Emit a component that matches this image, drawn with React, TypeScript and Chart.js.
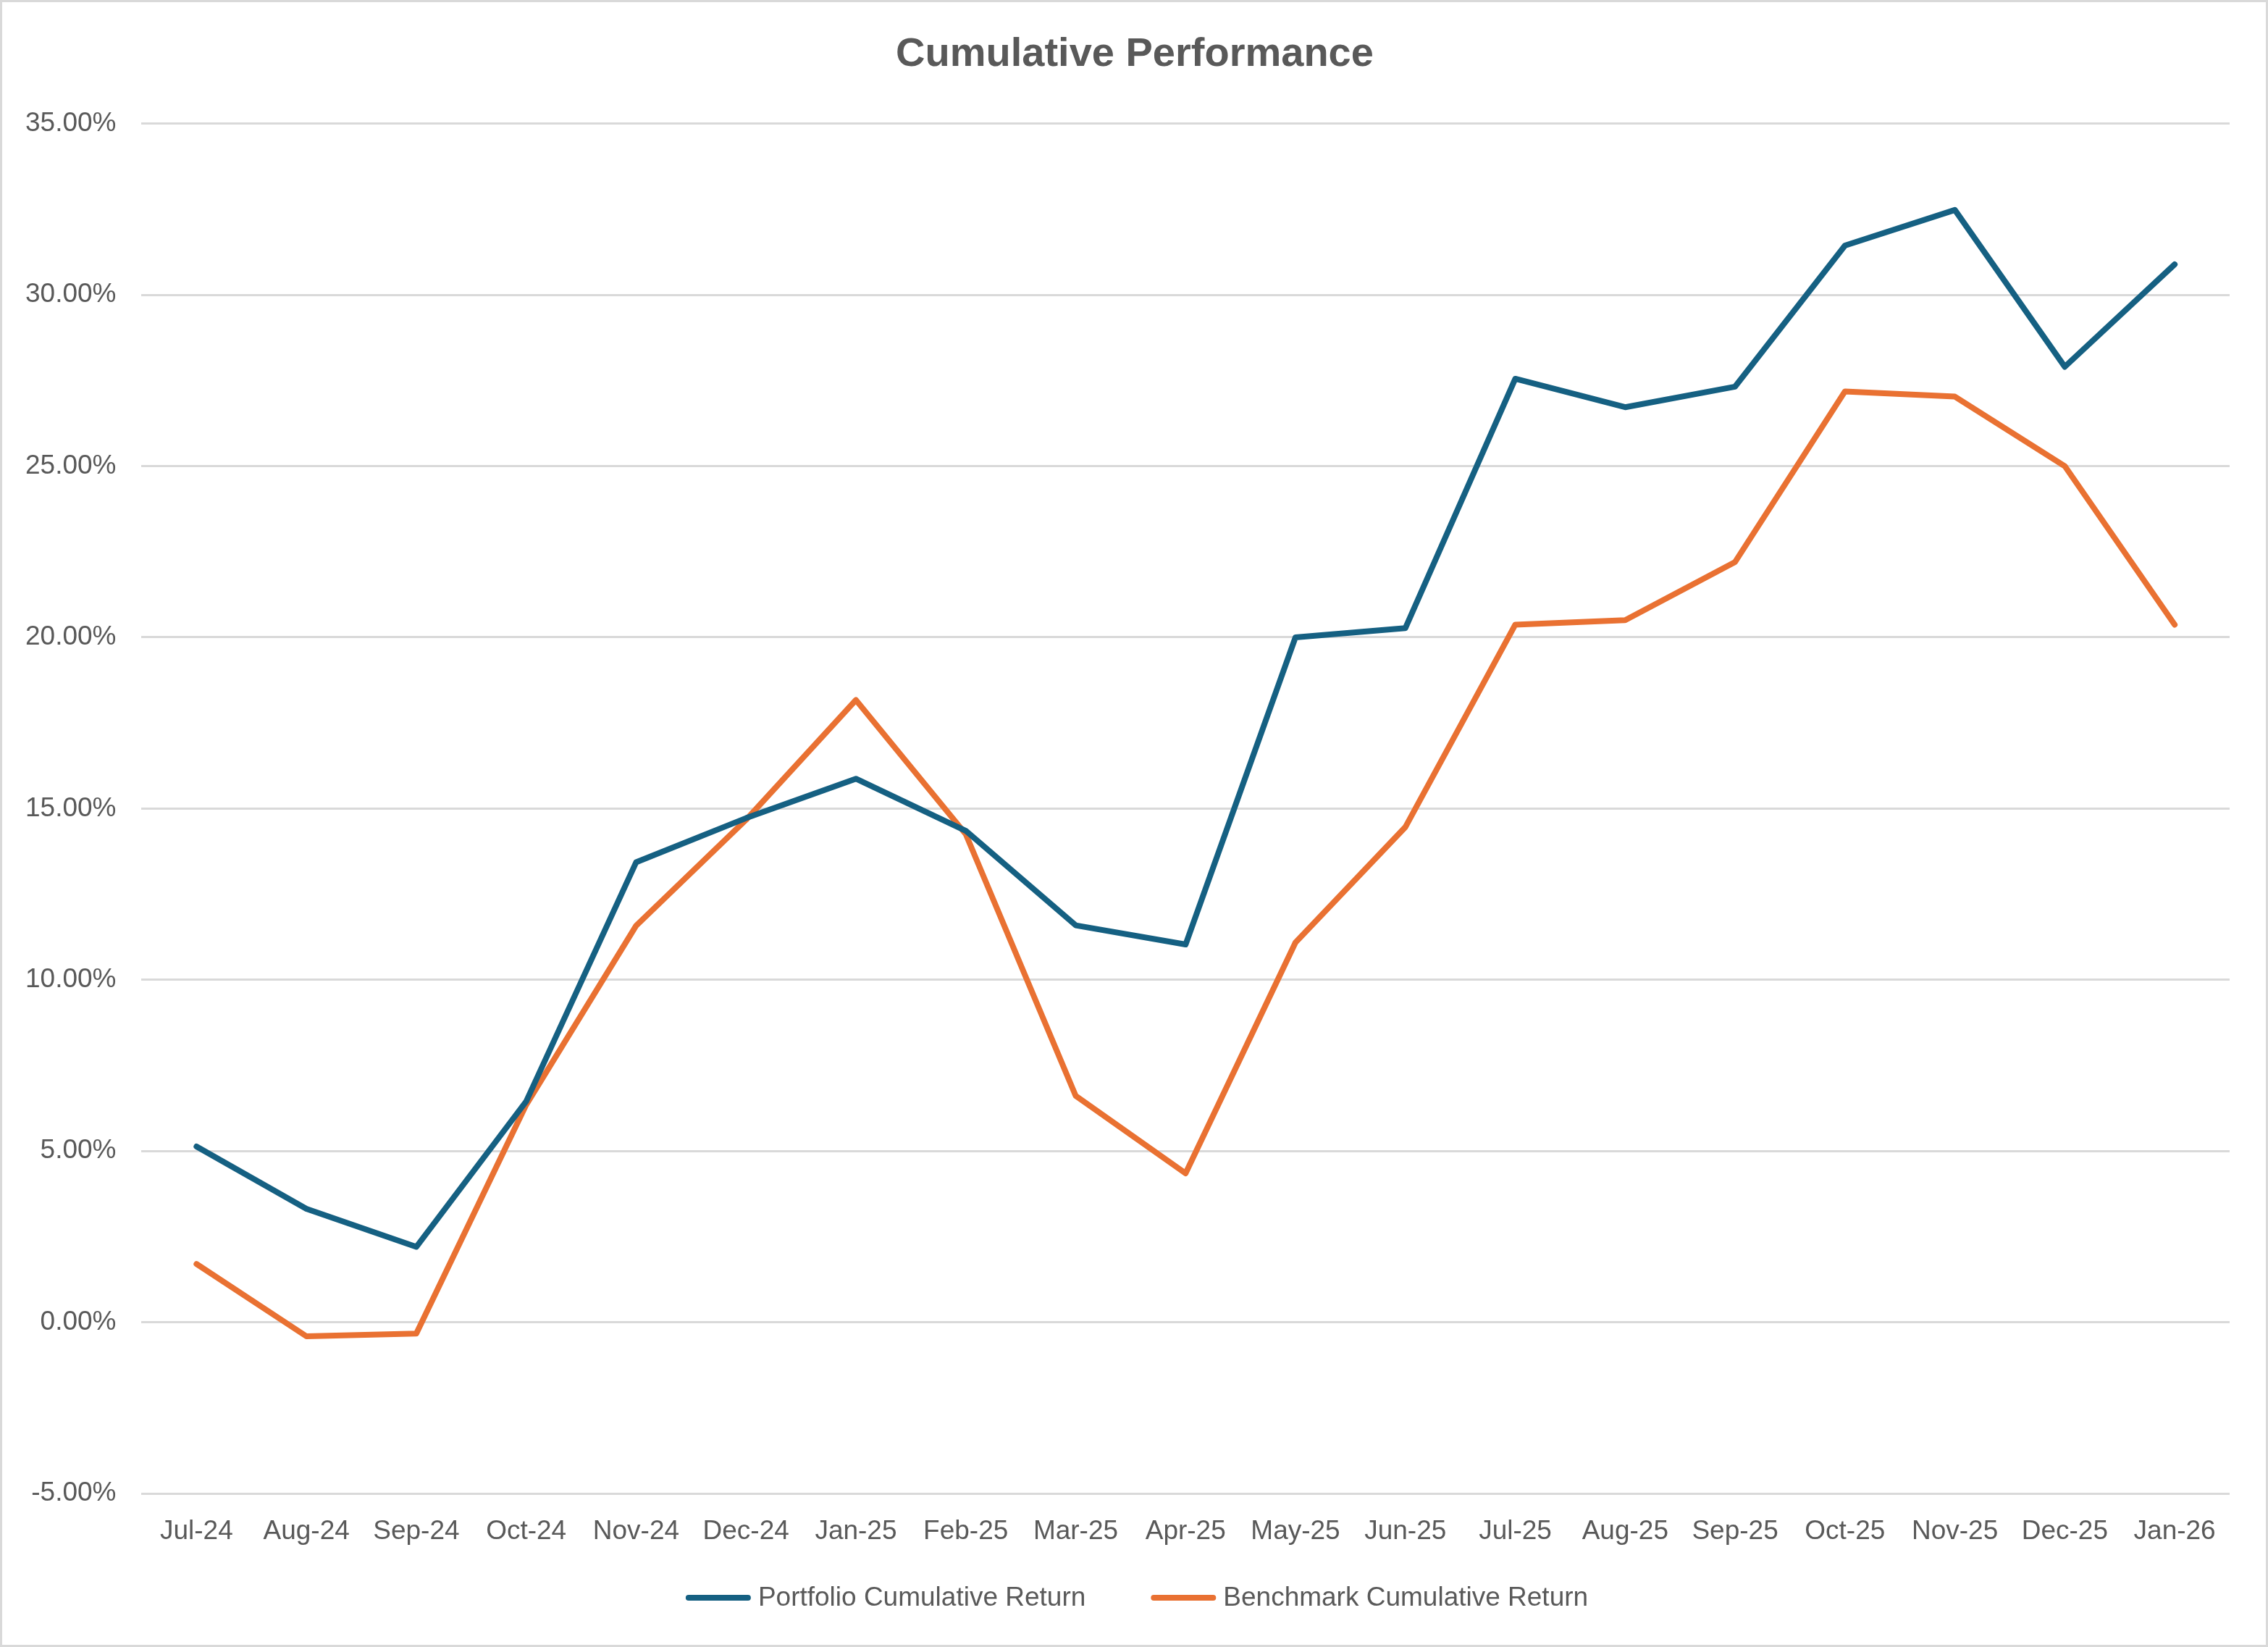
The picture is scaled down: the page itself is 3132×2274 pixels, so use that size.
import React, { useEffect, useRef } from "react";
import { Chart, registerables } from "chart.js";

Chart.register(...registerables);

const categories = [
  "Jul-24", "Aug-24", "Sep-24", "Oct-24", "Nov-24", "Dec-24", "Jan-25", "Feb-25",
  "Mar-25", "Apr-25", "May-25", "Jun-25", "Jul-25", "Aug-25", "Sep-25", "Oct-25",
  "Nov-25", "Dec-25", "Jan-26",
];

const portfolioReturn = [
  5.13, 3.31, 2.2, 6.45, 13.43, 14.72, 15.87, 14.35, 11.59, 11.03, 20.0, 20.27,
  27.55, 26.72, 27.32, 31.44, 32.48, 27.9, 30.89,
];

const benchmarkReturn = [
  1.7, -0.41, -0.33, 6.35, 11.58, 14.67, 18.17, 14.25, 6.61, 4.35, 11.09, 14.46,
  20.37, 20.5, 22.2, 27.18, 27.03, 25.0, 20.37,
];

const seriesNames = ["Portfolio Cumulative Return", "Benchmark Cumulative Return"];
const seriesColors = ["#156082", "#E97132"];
const chartTitle = "Cumulative Performance";

const FONT = "'Liberation Sans', Arial, sans-serif";
const TEXT_COLOR = "#595959";
const GRID_COLOR = "#d9d9d9";

const frameTitleLegend = {
  id: "frameTitleLegend",
  beforeDraw(chart: any) {
    const { ctx, width, height } = chart;
    ctx.save();
    ctx.fillStyle = "#ffffff";
    ctx.fillRect(0, 0, width, height);
    ctx.restore();
  },
  afterDraw(chart: any) {
    const { ctx, width, height } = chart;
    ctx.save();
    ctx.strokeStyle = GRID_COLOR;
    ctx.lineWidth = 3;
    ctx.strokeRect(1.5, 1.5, width - 3, height - 3);

    // title
    ctx.font = `bold 56px ${FONT}`;
    ctx.fillStyle = TEXT_COLOR;
    ctx.textAlign = "center";
    ctx.textBaseline = "middle";
    ctx.fillText(chartTitle, 1567, 76);

    // legend
    const fontSize = 37;
    ctx.font = `${fontSize}px ${FONT}`;
    const swatch = 90;
    const textGap = 10;
    const itemGap = 90;
    const ds = chart.data.datasets;
    const widths = ds.map((d: any) => ctx.measureText(d.label).width);
    let total = 0;
    widths.forEach((w: number, i: number) => {
      total += swatch + textGap + w + (i < widths.length - 1 ? itemGap : 0);
    });
    let x = width / 2 - total / 2 + 4;
    const y = 2206;
    ds.forEach((d: any, i: number) => {
      ctx.strokeStyle = d.borderColor;
      ctx.lineWidth = 8;
      ctx.lineCap = "round";
      ctx.beginPath();
      ctx.moveTo(x + 4, y);
      ctx.lineTo(x + swatch - 4, y);
      ctx.stroke();
      ctx.fillStyle = TEXT_COLOR;
      ctx.textAlign = "left";
      ctx.textBaseline = "middle";
      ctx.fillText(d.label, x + swatch + textGap, y + 1);
      x += swatch + textGap + widths[i] + itemGap;
    });
    ctx.restore();
  },
};

export default function App() {
  const canvasRef = useRef<HTMLCanvasElement | null>(null);

  useEffect(() => {
    document.body.style.margin = "0";
    const canvas = canvasRef.current;
    if (!canvas) return;
    const lineStyle = {
      borderWidth: 8,
      pointRadius: 0,
      pointHoverRadius: 0,
      tension: 0,
      borderCapStyle: "round" as const,
      borderJoinStyle: "round" as const,
    };
    const chart = new Chart(canvas, {
      type: "line",
      data: {
        labels: categories,
        datasets: [
          {
            label: seriesNames[0],
            data: portfolioReturn,
            borderColor: seriesColors[0],
            backgroundColor: seriesColors[0],
            ...lineStyle,
          },
          {
            label: seriesNames[1],
            data: benchmarkReturn,
            borderColor: seriesColors[1],
            backgroundColor: seriesColors[1],
            ...lineStyle,
          },
        ],
      },
      options: {
        responsive: false,
        animation: false,
        devicePixelRatio: 1,
        layout: { padding: { left: 0, right: 53, top: 170.7, bottom: 105.6 } },
        plugins: {
          legend: { display: false },
          tooltip: { enabled: false },
          title: { display: false },
        },
        scales: {
          x: {
            offset: true,
            grid: { display: false, drawTicks: false },
            border: { display: false },
            ticks: {
              color: TEXT_COLOR,
              font: { family: FONT, size: 37, lineHeight: 1.2 },
              padding: 31,
              maxRotation: 0,
              autoSkip: false,
            },
          },
          y: {
            min: -5,
            max: 35,
            grid: { color: GRID_COLOR, lineWidth: 3, drawTicks: false },
            border: { display: false },
            ticks: {
              stepSize: 5,
              color: TEXT_COLOR,
              font: { family: FONT, size: 37 },
              padding: 35,
              callback: (v: any) => Number(v).toFixed(2) + "%",
            },
          },
        },
      },
      plugins: [frameTitleLegend],
    });
    return () => chart.destroy();
  }, []);

  return (
    <div style={{ width: 3132, height: 2274 }}>
      <canvas ref={canvasRef} width={3132} height={2274} style={{ display: "block" }} />
    </div>
  );
}
